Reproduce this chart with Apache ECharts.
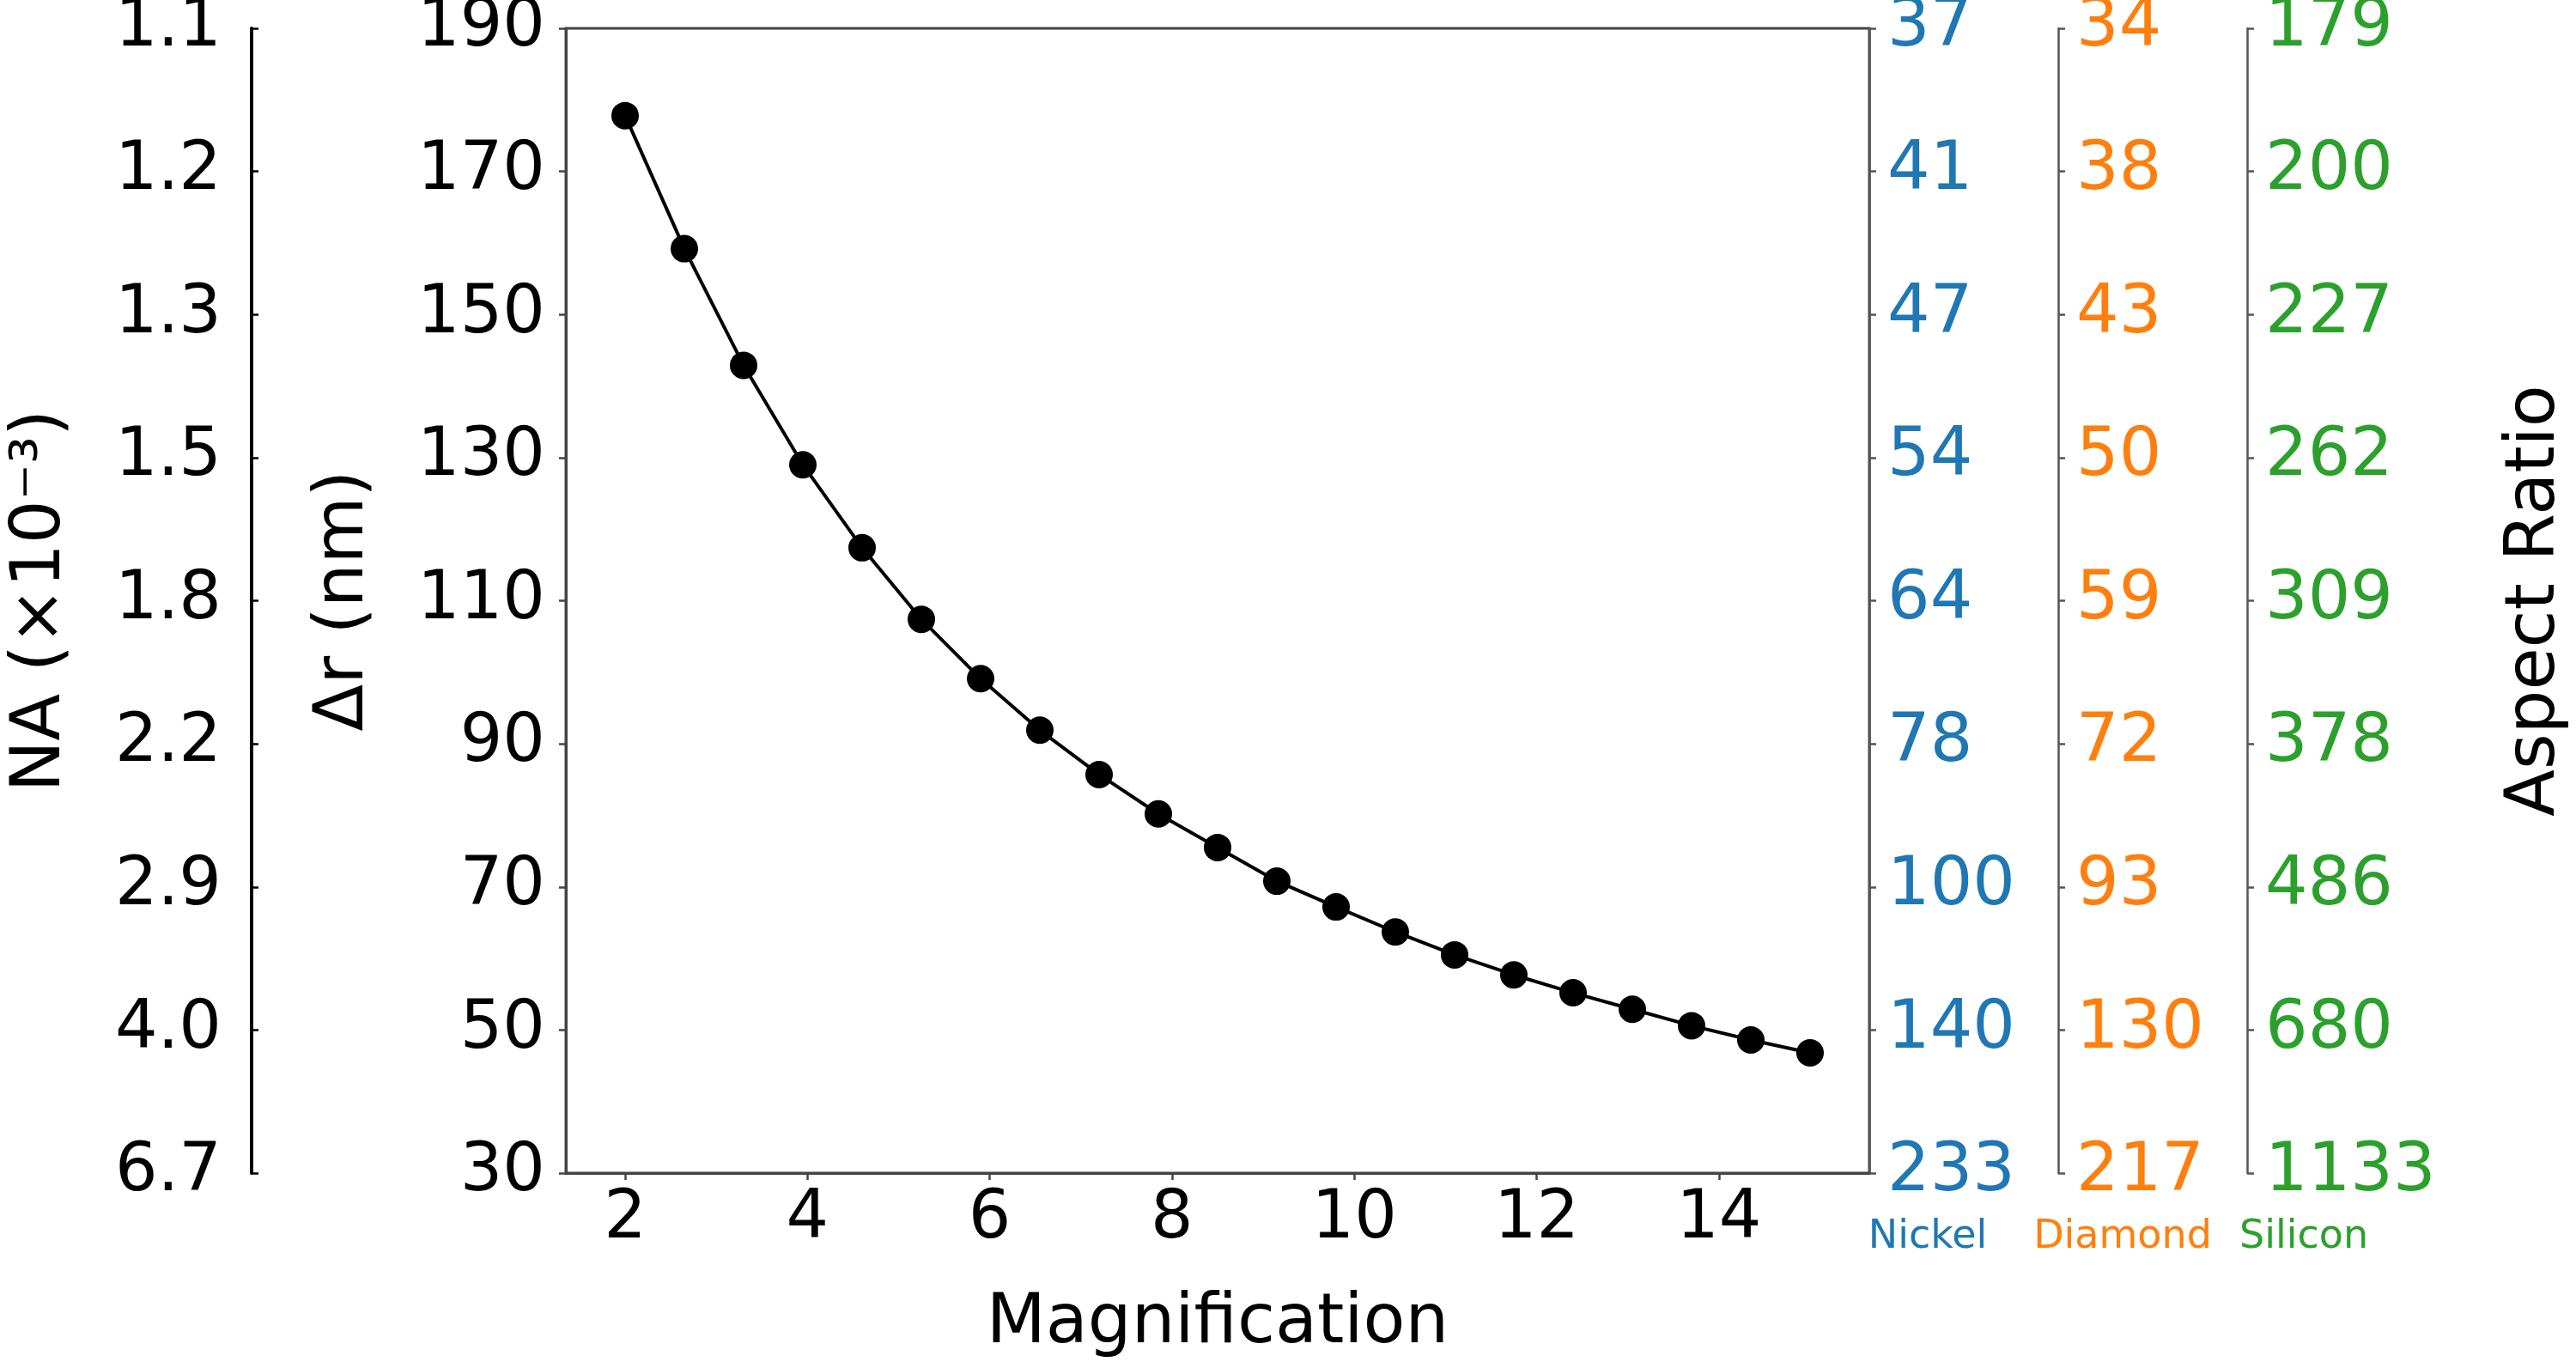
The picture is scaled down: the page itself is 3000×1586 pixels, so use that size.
<!DOCTYPE html>
<html>
<head>
<meta charset="utf-8">
<title>Magnification vs Δr</title>
<script src="https://cdn.jsdelivr.net/npm/echarts@6/dist/echarts.min.js"></script>
<style>
  html, body { margin: 0; padding: 0; background: #fff; }
  #chart { width: 3000px; height: 1586px; }
</style>
</head>
<body>
<div id="chart"></div>
<script>
// data
var magnification = [2, 2.65, 3.3, 3.95, 4.6, 5.25, 5.9, 6.55, 7.2, 7.85, 8.5,
    9.15, 9.8, 10.45, 11.1, 11.75, 12.4, 13.05, 13.7, 14.35, 15];
var deltaR = [177.8, 159.2, 142.9, 129.0, 117.4, 107.4, 99.1, 91.9, 85.7, 80.2, 75.5,
    70.8, 67.2, 63.7, 60.5, 57.7, 55.2, 52.9, 50.6, 48.6, 46.8];

// tick labels, top to bottom
var drTicks = [190, 170, 150, 130, 110, 90, 70, 50, 30];
var naTicks = ['1.1', '1.2', '1.3', '1.5', '1.8', '2.2', '2.9', '4.0', '6.7'];
var nickelTicks = ['37', '41', '47', '54', '64', '78', '100', '140', '233'];
var diamondTicks = ['34', '38', '43', '50', '59', '72', '93', '130', '217'];
var siliconTicks = ['179', '200', '227', '262', '309', '378', '486', '680', '1133'];
var xTicks = [2, 4, 6, 8, 10, 12, 14];

var FONT = 'DejaVu Sans';
var TICK_SIZE = 78;
var NAME_SIZE = 80;

function mapLabels(arr) {
    return function (v) {
        var i = drTicks.indexOf(Math.round(v));
        return i < 0 ? '' : arr[i];
    };
}

function sideAxis(opts) {
    var ax = {
        type: 'value',
        min: 30,
        max: 190,
        position: opts.position,
        offset: opts.offset,
        splitLine: { show: false },
        axisLine: { show: true, onZero: false, lineStyle: { color: opts.lineColor || '#555', width: opts.lineWidth || 2.5 } },
        axisTick: { show: true, inside: !!opts.inside, length: 8, customValues: drTicks, lineStyle: { color: opts.lineColor || '#555', width: 2.5 } },
        axisLabel: {
            show: true,
            customValues: drTicks,
            margin: opts.margin,
            color: opts.color,
            fontFamily: FONT,
            fontSize: TICK_SIZE,
            padding: [12, 0, 0, 0],
            formatter: opts.formatter
        }
    };
    if (opts.name) {
        ax.name = opts.name;
        ax.nameLocation = opts.nameLocation;
        ax.nameGap = opts.nameGap;
        if (opts.nameRotate != null) ax.nameRotate = opts.nameRotate;
        ax.nameTextStyle = opts.nameTextStyle;
    }
    return ax;
}

var chart = echarts.init(document.getElementById('chart'));

var seriesData = magnification.map(function (m, i) { return [m, deltaR[i]]; });

var option = {
    backgroundColor: '#fff',
    animation: false,
    grid: {
        left: 659,
        right: 823,
        top: 33,
        bottom: 220,
        show: true,
        borderColor: '#444',
        borderWidth: 3,
        containLabel: false,
        outerBoundsMode: 'none'
    },
    xAxis: {
        type: 'value',
        min: 1.35,
        max: 15.65,
        name: 'Magnification',
        nameLocation: 'middle',
        nameGap: 136,
        nameTextStyle: { fontFamily: FONT, fontSize: NAME_SIZE, color: '#000' },
        splitLine: { show: false },
        axisLine: { onZero: false, lineStyle: { color: '#444', width: 3 } },
        axisTick: { length: 8, customValues: xTicks, lineStyle: { color: '#444', width: 2.5 } },
        axisLabel: { customValues: xTicks, margin: 16, color: '#000', fontFamily: FONT, fontSize: TICK_SIZE }
    },
    yAxis: [
        sideAxis({
            position: 'left', offset: 0, margin: 24, color: '#000', lineColor: '#444', lineWidth: 3,
            formatter: function (v) { return String(v); },
            name: 'Δr (nm)', nameLocation: 'middle', nameGap: 218, nameRotate: 90,
            nameTextStyle: { fontFamily: FONT, fontSize: NAME_SIZE, color: '#000' }
        }),
        sideAxis({
            position: 'left', offset: 366, margin: 35, color: '#000', lineColor: '#000', lineWidth: 4, inside: true,
            formatter: mapLabels(naTicks),
            name: 'NA (×10⁻³)', nameLocation: 'middle', nameGap: 205, nameRotate: 90,
            nameTextStyle: { fontFamily: FONT, fontSize: NAME_SIZE, color: '#000' }
        }),
        sideAxis({
            position: 'right', offset: 0, margin: 21, color: '#1f77b4',
            formatter: mapLabels(nickelTicks),
            name: 'Nickel', nameLocation: 'start', nameGap: 52,
            nameTextStyle: { fontFamily: FONT, fontSize: 46, color: '#1f77b4', align: 'center', verticalAlign: 'top', padding: [0, 0, 0, 136] }
        }),
        sideAxis({
            position: 'right', offset: 220, margin: 21, color: '#ff7f0e',
            formatter: mapLabels(diamondTicks),
            name: 'Diamond', nameLocation: 'start', nameGap: 52,
            nameTextStyle: { fontFamily: FONT, fontSize: 46, color: '#ff7f0e', align: 'center', verticalAlign: 'top', padding: [0, 0, 0, 150] }
        }),
        sideAxis({
            position: 'right', offset: 440, margin: 21, color: '#2ca02c',
            formatter: mapLabels(siliconTicks),
            name: 'Silicon', nameLocation: 'start', nameGap: 52,
            nameTextStyle: { fontFamily: FONT, fontSize: 46, color: '#2ca02c', align: 'center', verticalAlign: 'top', padding: [0, 0, 0, 132] }
        }),
        {
            // carries only the "Aspect Ratio" title
            type: 'value',
            min: 30,
            max: 190,
            position: 'right',
            offset: 440,
            name: 'Aspect Ratio',
            nameLocation: 'middle',
            nameGap: 296,
            nameRotate: 90,
            nameTextStyle: { fontFamily: FONT, fontSize: NAME_SIZE, color: '#000' },
            axisLine: { show: false },
            axisTick: { show: false },
            axisLabel: { show: false },
            splitLine: { show: false }
        }
    ],
    series: [{
        type: 'line',
        yAxisIndex: 0,
        data: seriesData,
        symbol: 'circle',
        symbolSize: 32,
        itemStyle: { color: '#000' },
        lineStyle: { color: '#000', width: 4 },
        z: 5
    }]
};

chart.setOption(option);
</script>
</body>
</html>
